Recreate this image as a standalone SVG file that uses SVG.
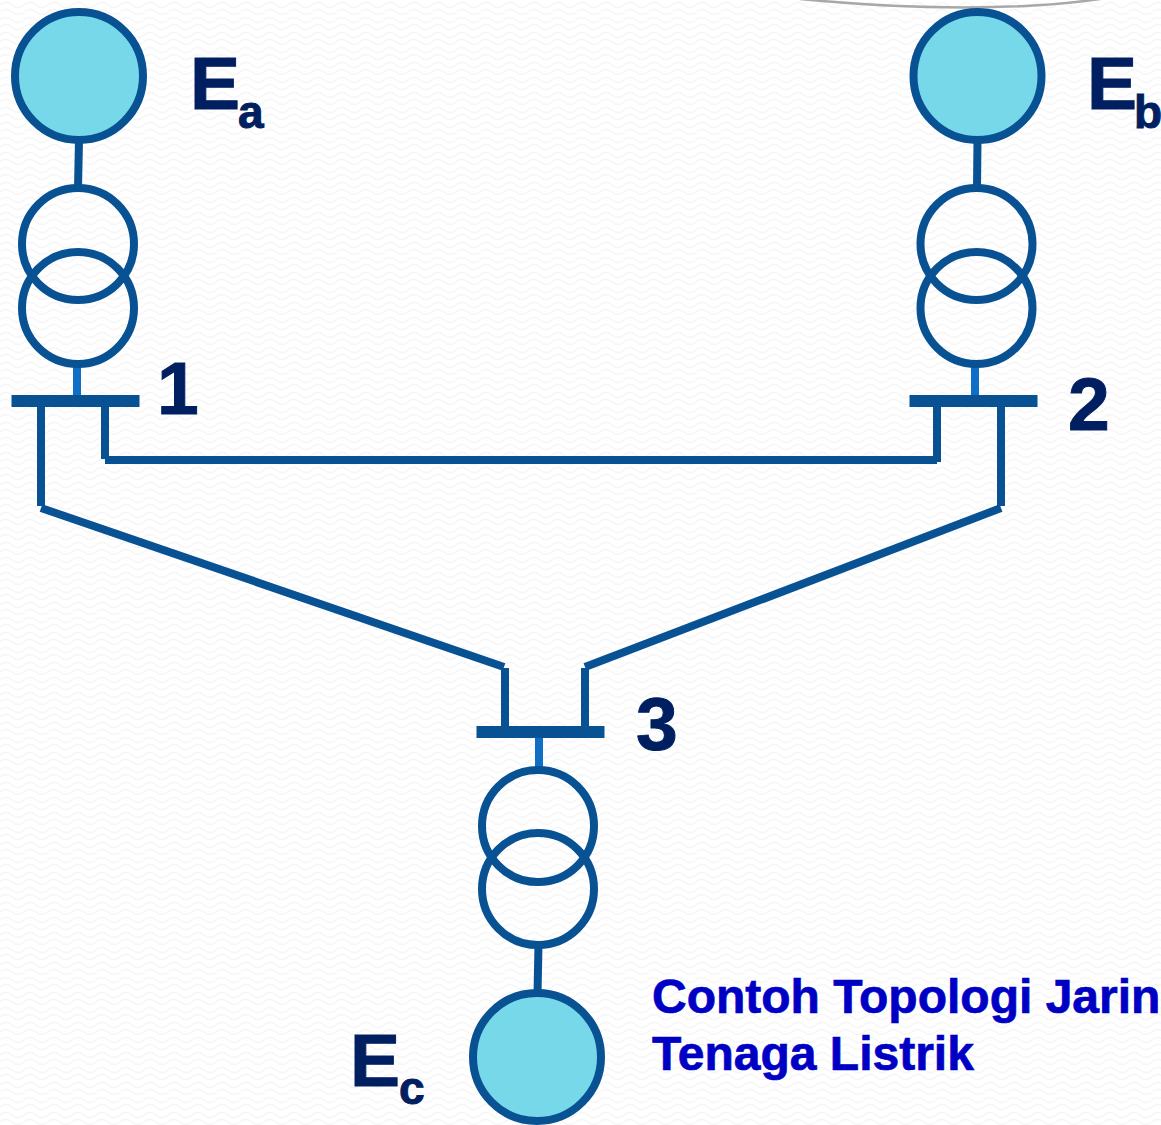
<svg xmlns="http://www.w3.org/2000/svg" width="1161" height="1125" viewBox="0 0 1161 1125">
<style>
.ln{fill:none;stroke:#085294;stroke-width:8}
.lt{fill:none;stroke:#0F6FC6;stroke-width:8}
.gen{fill:#76D8E9;stroke:#085294;stroke-width:8}
.tr{fill:none;stroke:#085294;stroke-width:8}
.bus{fill:#085294}
.lab{font-family:"Liberation Sans",Arial,sans-serif;font-weight:700;fill:#001F60;stroke:#001F60;stroke-width:1}
.cap{font-family:"Liberation Sans",Arial,sans-serif;font-weight:700;fill:#0000C4;stroke:#0000C4;stroke-width:.7;font-size:48px}
</style>
<defs>
<pattern id="bg" width="24" height="15" patternUnits="userSpaceOnUse">
<rect width="24" height="15" fill="#FFFFFF"/>
<path d="M0 5Q6 0 12 5T24 5M0 12Q6 7 12 12T24 12" fill="none" stroke="#F6F6F6" stroke-width="1.5"/>
</pattern>
</defs>
<rect id="background" width="1161" height="1125" fill="url(#bg)"/>
<path id="arc" d="M800 -1Q980 16 1100 -1" fill="none" stroke="#A8A8A8" stroke-width="2.500"/>
<g id="connectors">
<path class="ln" d="M79 140L78 188"/>
<path class="ln" d="M977.500 140L977 188"/>
<path class="ln" d="M538.500 944L537.500 994"/>
<path class="lt" d="M77 364V397"/>
<path class="lt" d="M975 364V397"/>
<path class="lt" d="M539 737V770"/>
<path class="ln" d="M41 405V506"/>
<path class="ln" d="M105 405V459"/>
<path class="ln" d="M105 460H937"/>
<path class="ln" d="M937 405V462"/>
<path class="ln" d="M1001 405V506"/>
<path class="ln" d="M41 508L504 667"/>
<path class="ln" d="M1001 508L585 667"/>
<path class="ln" d="M505 668V728"/>
<path class="ln" d="M585 668V728"/>
</g>
<g id="gen-a"><circle class="gen" cx="79" cy="76" r="64"/><text class="lab" x="190" y="109" font-size="75">E</text><text class="lab" x="238" y="128" font-size="46">a</text></g>
<g id="gen-b"><circle class="gen" cx="977.500" cy="76" r="64"/><text class="lab" x="1087" y="109" font-size="75">E</text><text class="lab" x="1134" y="128" font-size="46">b</text></g>
<g id="gen-c"><circle class="gen" cx="537" cy="1057" r="64"/><text class="lab" x="350" y="1086" font-size="75">E</text><text class="lab" x="399" y="1104" font-size="46">c</text></g>
<g id="transformer-a"><circle class="tr" cx="78" cy="244" r="56"/><circle class="tr" cx="78" cy="308" r="56"/></g>
<g id="transformer-b"><circle class="tr" cx="976.500" cy="244" r="56"/><circle class="tr" cx="976.500" cy="308" r="56"/></g>
<g id="transformer-c"><circle class="tr" cx="538" cy="826" r="56"/><circle class="tr" cx="538" cy="889" r="56"/></g>
<g id="bus-1"><rect class="bus" x="11.500" y="395" width="128" height="12"/><text class="lab" x="157" y="414" font-size="75">1</text></g>
<g id="bus-2"><rect class="bus" x="909.500" y="395" width="128" height="12"/><text class="lab" x="1068" y="430" font-size="75">2</text></g>
<g id="bus-3"><rect class="bus" x="476.500" y="726" width="128" height="12"/><text class="lab" x="636" y="750" font-size="75">3</text></g>
<g id="caption"><text class="cap" x="652" y="1013">Contoh Topologi Jarin</text><text class="cap" x="652" y="1070">Tenaga Listrik</text></g>
</svg>
